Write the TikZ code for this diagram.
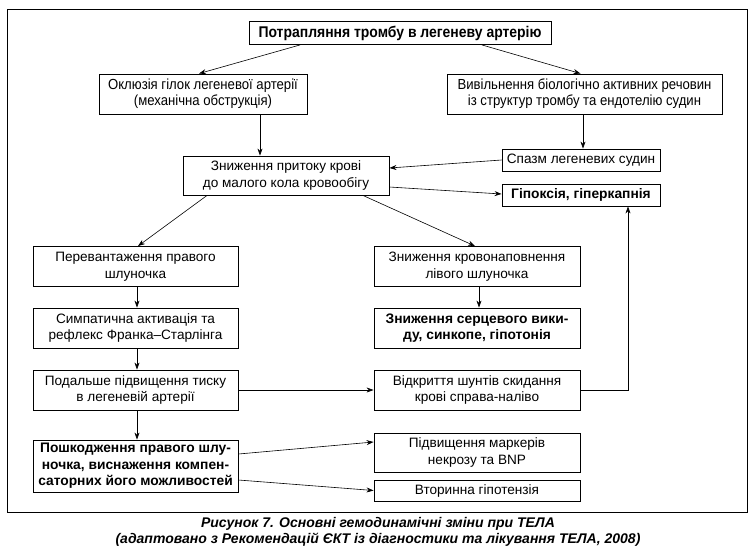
\documentclass[tikz,border=0pt]{standalone}
\usepackage{fontspec}
\setmainfont{Liberation Sans}
\newfontfamily\narrowfont{Liberation Sans}[FakeStretch=0.9]
\usetikzlibrary{arrows.meta}
\begin{document}
\begin{tikzpicture}[x=1pt,y=-1pt,
  box/.style={draw, line width=0.9pt, align=center, inner sep=0pt, text=black,
    font=\fontsize{13.6}{16.5}\selectfont},
  nbox/.style={box, font=\narrowfont\fontsize{14.6}{16}\selectfont},
  bbox/.style={box, font=\bfseries\fontsize{13.8}{16.5}\selectfont},
  arr/.style={-{Stealth[length=7pt,width=5pt]}, line width=0.6pt},
  frame/.style={line width=0.9pt}]
\useasboundingbox (0,0) rectangle (751,552);
\draw[frame] (7,9) rectangle (747,512);

\node[nbox, font=\narrowfont\bfseries\fontsize{15.5}{16}\selectfont, minimum width=302pt, minimum height=23pt] (top) at (400,33) {Потрапляння тромбу в легеневу артерію};
\node[nbox, minimum width=208pt, minimum height=40pt] (okl) at (203,94) {Оклюзія гілок легеневої артерії\\(механічна обструкція)};
\node[nbox, minimum width=275pt, minimum height=40pt] (viv) at (584.5,94) {Вивільнення біологічно активних речовин\\із структур тромбу та ендотелію судин};
\node[box, minimum width=206pt, minimum height=39pt] (pryt) at (286,175.5) {Зниження притоку крові\\до малого кола кровообігу};
\node[box, minimum width=158pt, minimum height=22pt] (spazm) at (581,160) {Спазм легеневих судин};
\node[bbox, minimum width=158pt, minimum height=22pt] (hyp) at (581,195) {Гіпоксія, гіперкапнія};
\node[box, minimum width=205pt, minimum height=40pt] (perev) at (135.5,266.5) {Перевантаження правого\\шлуночка};
\node[box, minimum width=206pt, minimum height=40pt] (krov) at (477,266.5) {Зниження кровонаповнення\\лівого шлуночка};
\node[box, minimum width=205pt, minimum height=40pt] (symp) at (135.5,328) {Симпатична активація та\\рефлекс Франка–Старлінга};
\node[bbox, minimum width=206pt, minimum height=40pt] (serc) at (477,328) {Зниження серцевого вики-\\ду, синкопе, гіпотонія};
\node[box, minimum width=205pt, minimum height=40pt] (podal) at (135.5,390) {Подальше підвищення тиску\\в легеневій артерії};
\node[box, minimum width=206pt, minimum height=40pt] (vidkr) at (477,390) {Відкриття шунтів скидання\\крові справа-наліво};
\node[bbox, minimum width=205pt, minimum height=52pt] (poshk) at (135.5,466) {Пошкодження правого шлу-\\ночка, виснаження компен-\\саторних його можливостей};
\node[box, minimum width=206pt, minimum height=39pt] (mark) at (477,452.5) {Підвищення маркерів\\некрозу та BNP};
\node[box, minimum width=206pt, minimum height=21pt] (vtor) at (477,490.5) {Вторинна гіпотензія};

\node[align=center, inner sep=0pt, font=\bfseries\itshape\fontsize{14}{16}\selectfont] (cap) at (378,532)
  {Рисунок 7. Основні гемодинамічні зміни при ТЕЛА\\(адаптовано з Рекомендацій ЄКТ із діагностики та лікування ТЕЛА, 2008)};

\draw[arr] ([xshift=-100pt]top.south) -- ([xshift=-4pt]okl.north);
\draw[arr] ([xshift=82pt]top.south) -- ([xshift=-4pt]viv.north);
\draw[arr] ([xshift=57pt]okl.south) -- ([xshift=57pt]okl.south |- pryt.north);
\draw[arr] ([xshift=-1.5pt]viv.south) -- ([xshift=-1.5pt]viv.south |- spazm.north);
\draw[arr] (spazm.west) -- ([yshift=7.5pt]pryt.east);
\draw[arr] ([yshift=-11.5pt]pryt.east) -- ([yshift=1pt]hyp.west);
\draw[arr] ([xshift=-79pt]pryt.south) -- ([xshift=2.5pt]perev.north);
\draw[arr] ([xshift=77pt]pryt.south) -- ([xshift=-2pt]krov.north);
\draw[arr] ([xshift=1.5pt]perev.south) -- ([xshift=1.5pt]symp.north);
\draw[arr] ([xshift=1.5pt]symp.south) -- ([xshift=1.5pt]podal.north);
\draw[arr] ([xshift=1.5pt]podal.south) -- ([xshift=1.5pt]poshk.north);
\draw[arr] ([xshift=2pt]krov.south) -- ([xshift=2pt]serc.north);
\draw[arr] (podal.east) -- (vidkr.west);
\draw[arr] (vidkr.east) -| ([xshift=47pt]hyp.south);
\draw[arr] ([yshift=12pt]poshk.east) -- ([yshift=10.5pt]mark.west);
\draw[arr] ([yshift=-14pt]poshk.east) -- (vtor.west);
\end{tikzpicture}
\end{document}
